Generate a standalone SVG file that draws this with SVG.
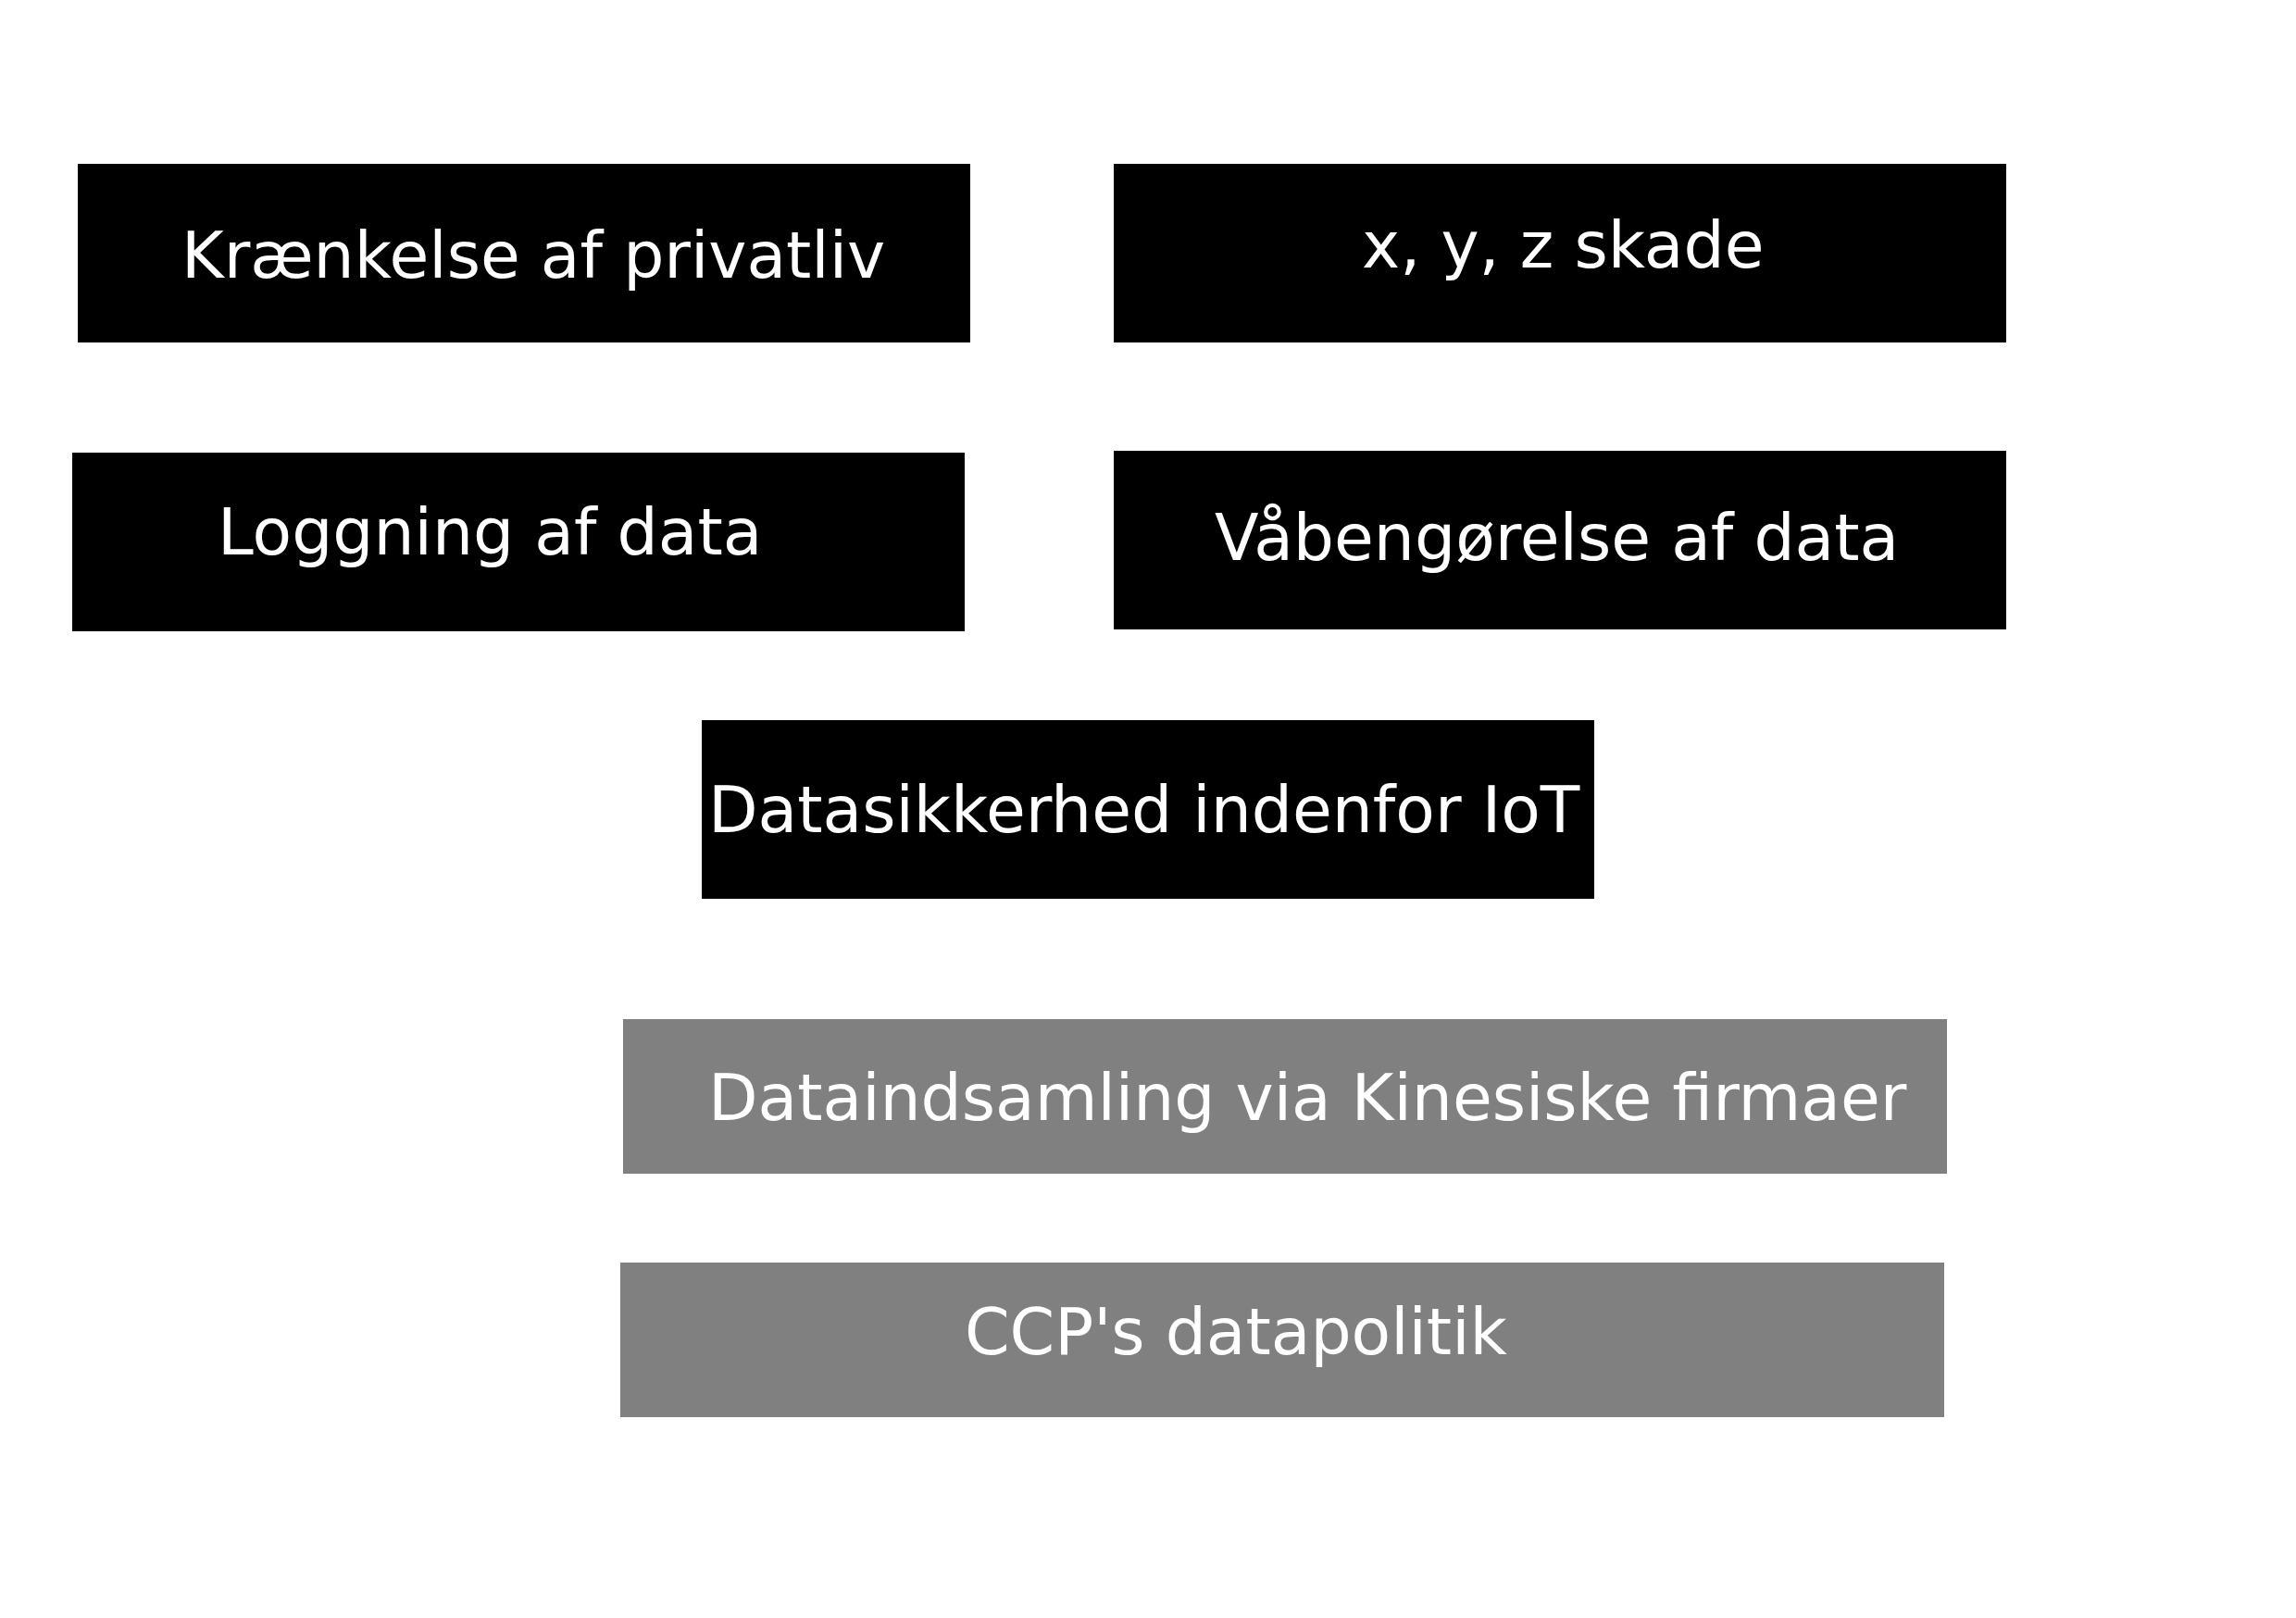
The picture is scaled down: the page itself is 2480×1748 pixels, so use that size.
<svg xmlns="http://www.w3.org/2000/svg" width="2480" height="1748" viewBox="0 0 2480 1748">
<style>
.blk{fill:#000000}
.gry{fill:#808080}
.lbl{font-family:"DejaVu Sans","Liberation Sans",sans-serif;font-size:69.6px;fill:#ffffff}
</style>
<rect x="0" y="0" width="2480" height="1748" fill="#ffffff"/>
<g id="connectors"></g>
<g id="n-kraenkelse">
<rect class="blk" x="84" y="177" width="964" height="193"/>
<text class="lbl" x="196" y="300">Krænkelse af privatliv</text>
</g>
<g id="n-xyz">
<rect class="blk" x="1203" y="177" width="964" height="193"/>
<text class="lbl" x="1471" y="289">x, y, z skade</text>
</g>
<g id="n-logning">
<rect class="blk" x="78" y="489" width="964" height="193"/>
<text class="lbl" x="235" y="599">Loggning af data</text>
</g>
<g id="n-vaaben">
<rect class="blk" x="1203" y="487" width="964" height="193"/>
<text class="lbl" x="1312" y="605">Våbengørelse af data</text>
</g>
<g id="n-datasikkerhed">
<rect class="blk" x="758" y="778" width="964" height="193"/>
<text class="lbl" x="765" y="899">Datasikkerhed indenfor IoT</text>
</g>
<g id="n-dataindsamling">
<rect class="gry" x="673" y="1101" width="1430" height="167"/>
<text class="lbl" x="765" y="1210">Dataindsamling via Kinesiske firmaer</text>
</g>
<g id="n-ccp">
<rect class="gry" x="670" y="1364" width="1430" height="167"/>
<text class="lbl" x="1042" y="1463">CCP's datapolitik</text>
</g>
</svg>
